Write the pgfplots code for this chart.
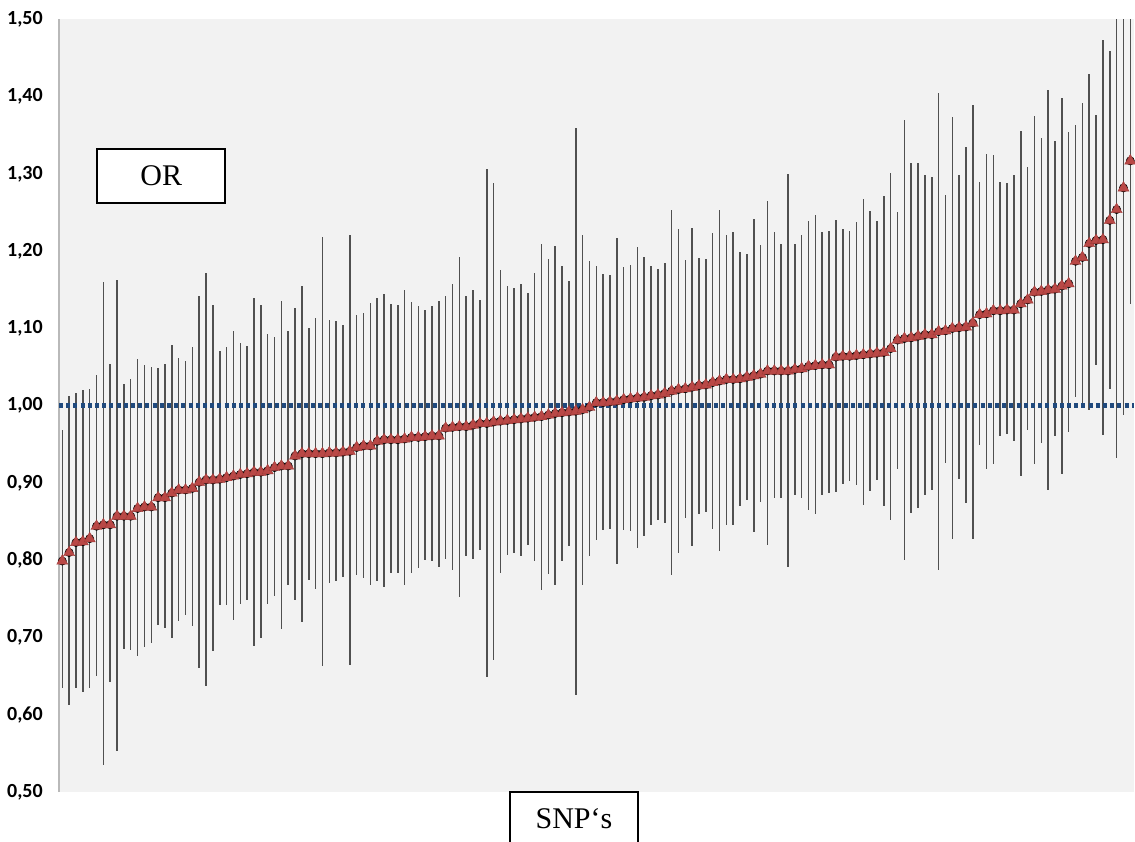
\documentclass[border=0pt]{standalone}
\usepackage{pgfplots}
\pgfplotsset{compat=1.18}
\usepackage{pgfplotstable}
\usepackage{fontspec}
\setmainfont{Liberation Serif}
\newfontfamily\ticksfont{Carlito}
\usetikzlibrary{calc}
\definecolor{bgc}{HTML}{F2F2F2}
\definecolor{mfill}{RGB}{185,72,70}
\definecolor{mdraw}{RGB}{160,58,56}
\definecolor{dblue}{RGB}{31,73,125}
\definecolor{wcol}{RGB}{80,80,80}
\pgfplotstableread{
i or lo hi
1 0.799 0.635 0.968
2 0.810 0.613 1.012
3 0.823 0.634 1.016
4 0.824 0.629 1.021
5 0.828 0.635 1.022
6 0.844 0.650 1.040
7 0.846 0.535 1.160
8 0.846 0.642 1.054
9 0.857 0.553 1.163
10 0.857 0.685 1.028
11 0.857 0.684 1.035
12 0.867 0.676 1.060
13 0.869 0.688 1.053
14 0.869 0.693 1.050
15 0.881 0.716 1.049
16 0.881 0.712 1.054
17 0.887 0.699 1.079
18 0.891 0.721 1.062
19 0.891 0.729 1.058
20 0.893 0.715 1.076
21 0.901 0.661 1.142
22 0.904 0.637 1.172
23 0.904 0.682 1.130
24 0.905 0.742 1.071
25 0.907 0.742 1.076
26 0.909 0.723 1.097
27 0.911 0.744 1.081
28 0.912 0.749 1.077
29 0.914 0.689 1.139
30 0.914 0.699 1.130
31 0.916 0.744 1.093
32 0.920 0.754 1.089
33 0.922 0.711 1.135
34 0.922 0.768 1.097
35 0.935 0.748 1.126
36 0.938 0.720 1.155
37 0.938 0.774 1.101
38 0.938 0.763 1.114
39 0.938 0.663 1.219
40 0.939 0.771 1.111
41 0.939 0.773 1.110
42 0.940 0.778 1.105
43 0.941 0.665 1.221
44 0.946 0.781 1.117
45 0.948 0.777 1.120
46 0.948 0.768 1.133
47 0.954 0.773 1.139
48 0.956 0.766 1.145
49 0.956 0.783 1.132
50 0.956 0.784 1.131
51 0.957 0.768 1.150
52 0.959 0.784 1.134
53 0.959 0.790 1.129
54 0.960 0.800 1.124
55 0.961 0.799 1.129
56 0.961 0.791 1.135
57 0.971 0.802 1.142
58 0.972 0.787 1.158
59 0.973 0.753 1.193
60 0.973 0.806 1.142
61 0.975 0.802 1.150
62 0.977 0.813 1.137
63 0.977 0.649 1.306
64 0.979 0.671 1.288
65 0.980 0.784 1.176
66 0.981 0.807 1.155
67 0.982 0.809 1.152
68 0.983 0.805 1.158
69 0.984 0.820 1.146
70 0.985 0.799 1.172
71 0.986 0.762 1.210
72 0.988 0.782 1.190
73 0.990 0.768 1.207
74 0.991 0.799 1.181
75 0.992 0.819 1.161
76 0.993 0.626 1.359
77 0.995 0.768 1.221
78 0.998 0.805 1.188
79 1.004 0.826 1.181
80 1.004 0.839 1.170
81 1.005 0.841 1.169
82 1.006 0.795 1.217
83 1.008 0.839 1.179
84 1.009 0.838 1.182
85 1.010 0.816 1.206
86 1.011 0.831 1.192
87 1.013 0.846 1.181
88 1.014 0.852 1.177
89 1.016 0.848 1.185
90 1.019 0.781 1.254
91 1.021 0.810 1.229
92 1.022 0.855 1.189
93 1.024 0.819 1.230
94 1.026 0.860 1.191
95 1.027 0.863 1.190
96 1.030 0.841 1.224
97 1.032 0.812 1.254
98 1.034 0.846 1.221
99 1.034 0.845 1.225
100 1.035 0.870 1.199
101 1.037 0.878 1.197
102 1.039 0.836 1.242
103 1.041 0.876 1.208
104 1.045 0.820 1.265
105 1.045 0.880 1.225
106 1.045 0.881 1.210
107 1.045 0.791 1.300
108 1.047 0.885 1.210
109 1.048 0.880 1.221
110 1.051 0.865 1.239
111 1.052 0.860 1.247
112 1.053 0.885 1.225
113 1.053 0.887 1.226
114 1.063 0.888 1.240
115 1.064 0.899 1.229
116 1.064 0.902 1.226
117 1.065 0.898 1.238
118 1.066 0.871 1.267
119 1.067 0.889 1.252
120 1.068 0.904 1.239
121 1.069 0.870 1.272
122 1.074 0.852 1.301
123 1.085 0.918 1.251
124 1.087 0.800 1.370
125 1.088 0.861 1.314
126 1.090 0.867 1.314
127 1.092 0.885 1.299
128 1.092 0.891 1.296
129 1.096 0.788 1.405
130 1.097 0.926 1.273
131 1.100 0.828 1.374
132 1.101 0.905 1.299
133 1.102 0.874 1.335
134 1.107 0.828 1.389
135 1.118 0.949 1.289
136 1.119 0.918 1.326
137 1.123 0.925 1.324
138 1.123 0.961 1.289
139 1.124 0.964 1.288
140 1.124 0.955 1.299
141 1.132 0.909 1.356
142 1.137 0.968 1.309
143 1.147 0.924 1.375
144 1.148 0.952 1.346
145 1.150 0.891 1.409
146 1.151 0.961 1.343
147 1.155 0.912 1.399
148 1.158 0.966 1.354
149 1.187 1.011 1.363
150 1.192 0.997 1.392
151 1.210 0.995 1.429
152 1.214 1.053 1.376
153 1.215 0.962 1.473
154 1.240 1.022 1.459
155 1.254 0.933 1.600
156 1.282 0.988 1.600
157 1.317 1.132 1.600
}\snps
\begin{document}
\begin{tikzpicture}
\begin{axis}[
  scale only axis,
  width=537.5pt, height=386.25pt,
  xmin=0.52, xmax=157.54, ymin=0.5, ymax=1.5,
  axis background/.style={fill=bgc},
  axis x line=none,
  axis y line*=left,
  y axis line style={draw=gray!55, line width=0.7pt, -},
  xtick=\empty,
  ytick={0.5,0.6,0.7,0.8,0.9,1.0,1.1,1.2,1.3,1.4,1.5},
  yticklabels={{0,50},{0,60},{0,70},{0,80},{0,90},{1,00},{1,10},{1,20},{1,30},{1,40},{1,50}},
  major tick length=0pt,
  yticklabel style={font=\ticksfont\bfseries\fontsize{10}{11}\selectfont, text=black, xshift=-4.6pt},
]
\addplot[only marks, mark=none,
  error bars/.cd, y dir=both, y explicit, error mark=none,
  error bar style={draw=wcol, line width=0.75pt, solid}]
  table[x=i, y=or,
        y error plus expr=\thisrow{hi}-\thisrow{or},
        y error minus expr=\thisrow{or}-\thisrow{lo}] {\snps};
\addplot[color=dblue, line width=2.3pt, dash pattern=on 2pt off 1.6pt]
  coordinates {(0.52,1.0) (157.54,1.0)};
\addplot[only marks, mark=triangle*, mark size=3.2pt,
  mark options={fill=mfill, draw=mdraw, line width=0.2pt, line join=miter}]
  table[x=i, y=or] {\snps};
\coordinate (LL) at (rel axis cs:0,0);
\coordinate (UR) at (rel axis cs:1,1);
\end{axis}
\node[draw=black, line width=1pt, fill=white, minimum width=64pt, minimum height=27pt,
  inner sep=0pt, font=\fontsize{15}{18}\selectfont] at ([xshift=51.15pt,yshift=308pt]LL) {OR};
\node[draw=black, line width=1pt, fill=white, minimum width=64pt, minimum height=27pt,
  inner sep=0pt, font=\fontsize{15}{18}\selectfont] at ([xshift=257.5pt,yshift=-13.5pt]LL) {SNP‘s};
\pgfresetboundingbox
\path[use as bounding box] ([xshift=-29.5pt,yshift=-24.5pt]LL) rectangle ([xshift=0.5pt,yshift=9.75pt]UR);
\end{tikzpicture}
\end{document}
